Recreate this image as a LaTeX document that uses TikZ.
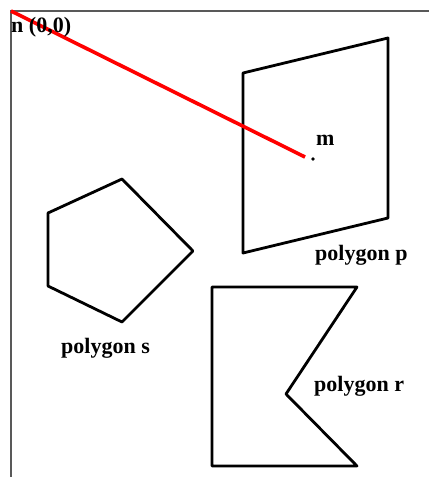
\documentclass[tikz,border=0pt]{standalone}
\usepackage{fontspec}
\setmainfont{Liberation Serif}
\usetikzlibrary{positioning, backgrounds}

\begin{document}
\begin{tikzpicture}[
    x=1pt, y=-1pt,
    background rectangle/.style={fill=white},
    show background rectangle,
    % Styles for frame, shapes and labels
    frame/.style={draw=black!65, line width=1.6pt},
    poly/.style={draw, line width=2.8pt, line join=round, line cap=round},
    segment/.style={draw=red, line width=3.6pt},
    lbl/.style={inner sep=0pt, anchor=base west, font=\fontsize{22}{26}\selectfont\bfseries}
]
    \useasboundingbox (0,0) rectangle (429,477);

    % --- FRAME ---
    \draw [frame] (11,477) -- (11,11) -- (429,11);

    % --- POINTS ---
    \coordinate (n) at (11,11);
    \coordinate (m) at (305,157);
    \fill (313,159) circle (1.8pt);

    % --- POLYGONS ---
    % polygon p
    \draw [poly] (243,73) -- (388,38) -- (388,218) -- (243,253) -- cycle;
    % polygon s
    \draw [poly] (48,213) -- (122,179) -- (193,251) -- (122,322) -- (48,286) -- cycle;
    % polygon r
    \draw [poly] (212,287) -- (357,287) -- (286,394) -- (357,466) -- (212,466) -- cycle;

    % --- SEGMENT ---
    \draw [segment] (n) -- (m);

    % --- LABELS ---
    \node [lbl] (nlabel) at (11,32) {n (0,0)};
    \node [lbl] (mlabel) at (316,145) {m};
    \node [lbl] (plabel) at (315,260) {polygon p};
    \node [lbl] (slabel) at (61,353) {polygon s};
    \node [lbl] (rlabel) at (314,391) {polygon r};

\end{tikzpicture}
\end{document}
